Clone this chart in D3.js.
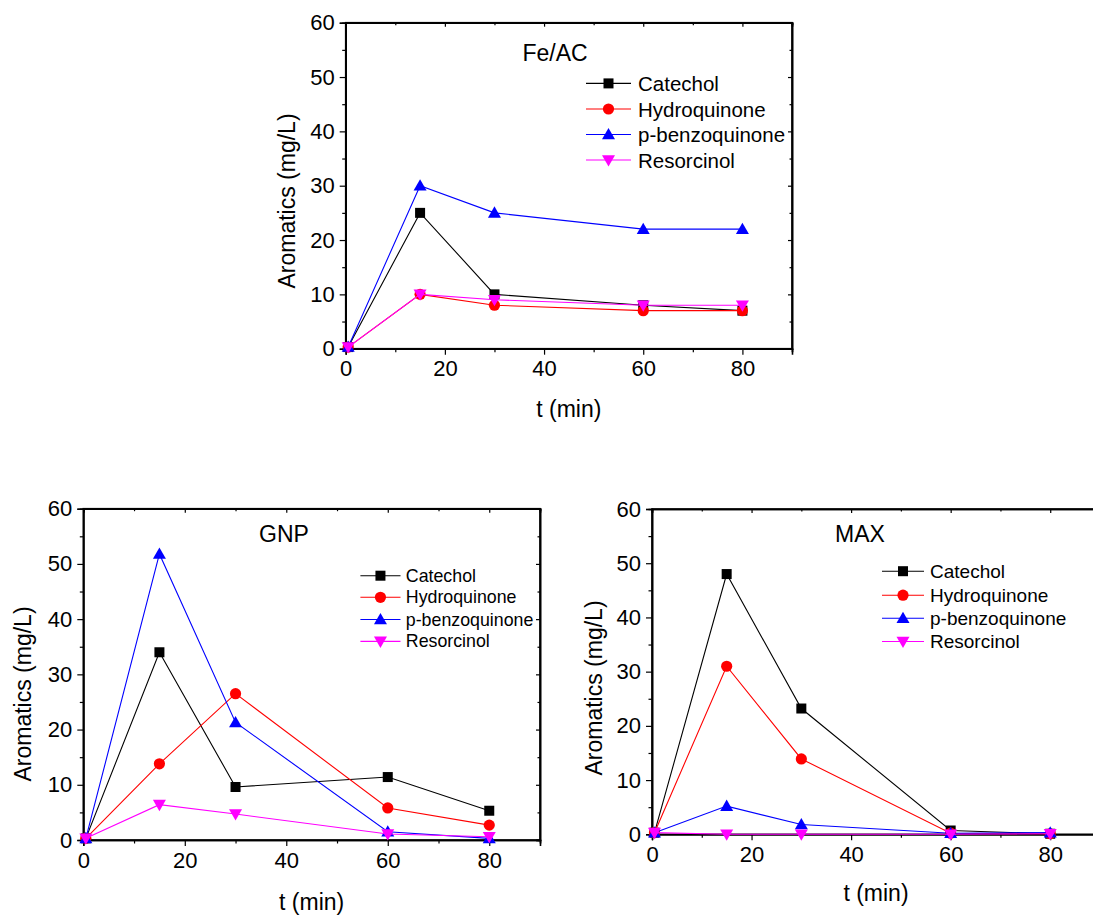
<!DOCTYPE html>
<html>
<head>
<meta charset="utf-8">
<script src="https://cdn.jsdelivr.net/npm/d3@7"></script>
<style>
  html, body { margin: 0; padding: 0; background: #fff; }
  svg { display: block; font-family: "Liberation Sans", Arial, sans-serif; }
</style>
</head>
<body>
<svg id="chart" width="1093" height="918"></svg>
<script>
// ---------------- DATA ----------------
const times = [0.5, 15, 30, 60, 80];
const seriesNames = ["Catechol", "Hydroquinone", "p-benzoquinone", "Resorcinol"];
const panelTitles = ["Fe/AC", "GNP", "MAX"];

const feacCatechol      = [0.3, 25, 10, 8, 7];
const feacHydroquinone  = [0.3, 10, 8, 7, 7];
const feacBenzoquinone  = [0.3, 30, 25, 22, 22];
const feacResorcinol    = [0.3, 10, 9, 8, 8];

const gnpCatechol       = [0.3, 34, 9.6, 11.4, 5.3];
const gnpHydroquinone   = [0.3, 13.8, 26.5, 5.8, 2.7];
const gnpBenzoquinone   = [0.3, 51.8, 21.3, 1.5, 0.3];
const gnpResorcinol     = [0.3, 6.4, 4.7, 1.1, 0.6];

const maxCatechol       = [0.3, 48, 23.2, 0.7, 0.1];
const maxHydroquinone   = [0.3, 31, 13.9, 0.2, 0.1];
const maxBenzoquinone   = [0.3, 5.2, 1.8, 0.2, 0.3];
const maxResorcinol     = [0.3, 0, 0, 0, 0.1];

const yMajorTicks = [0, 10, 20, 30, 40, 50, 60];
const yMinorTicks = [5, 15, 25, 35, 45, 55];
const xMajorTicks = [0, 20, 40, 60, 80];
const xMinorTicks = [10, 30, 50, 70, 90];
const xTitle = "t (min)";
const yTitle = "Aromatics (mg/L)";

// ---------------- STYLE / LAYOUT ----------------
const colors = ["#000000", "#ff0000", "#0000ff", "#ff00ff"];
const symbols = ["square", "circle", "up", "down"];

const panels = [
  { title: panelTitles[0], data: [feacCatechol, feacHydroquinone, feacBenzoquinone, feacResorcinol],
    left: 345.7, right: 792, top: 22.7, bottom: 348.7,
    titleX: 555, titleY: 53, legX0: 586, legX1: 631, legTextX: 638, legY: [83.4, 109, 134.5, 160], legFont: 20.5,
    yTitleX: 287, yTitleY: 201, xTitleY: 409 },
  { title: panelTitles[1], data: [gnpCatechol, gnpHydroquinone, gnpBenzoquinone, gnpResorcinol],
    left: 83.3, right: 540, top: 508.7, bottom: 840,
    titleX: 284, titleY: 534, legX0: 360.4, legX1: 400.5, legTextX: 405.8, legY: [575.7, 597.3, 619.5, 641.4], legFont: 17.8,
    yTitleX: 23, yTitleY: 694, xTitleY: 902 },
  { title: panelTitles[2], data: [maxCatechol, maxHydroquinone, maxBenzoquinone, maxResorcinol],
    left: 652, right: 1100, top: 509, bottom: 834.3,
    titleX: 860, titleY: 534, legX0: 882, legX1: 924, legTextX: 930, legY: [571.2, 595.2, 618.3, 641.5], legFont: 19,
    yTitleX: 594, yTitleY: 688, xTitleY: 893 }
];

const svg = d3.select("#chart");

function marker(g, type, cx, cy, color) {
  if (type === "square") {
    g.append("rect").attr("x", cx - 5).attr("y", cy - 5).attr("width", 10).attr("height", 10).attr("fill", color);
  } else if (type === "circle") {
    g.append("circle").attr("cx", cx).attr("cy", cy).attr("r", 5.6).attr("fill", color);
  } else if (type === "up") {
    g.append("path").attr("d", `M${cx},${cy - 6.5}L${cx + 6.5},${cy + 4.8}L${cx - 6.5},${cy + 4.8}Z`).attr("fill", color);
  } else {
    g.append("path").attr("d", `M${cx},${cy + 6.5}L${cx + 6.5},${cy - 4.8}L${cx - 6.5},${cy - 4.8}Z`).attr("fill", color);
  }
}

panels.forEach(p => {
  const x = d3.scaleLinear().domain([0, 90]).range([p.left, p.right]);
  const y = d3.scaleLinear().domain([0, 60]).range([p.bottom, p.top]);
  const g = svg.append("g");

  // frame
  g.append("rect").attr("x", p.left).attr("y", p.top)
    .attr("width", p.right - p.left).attr("height", p.bottom - p.top)
    .attr("fill", "none").attr("stroke", "#000").attr("stroke-width", 1.6);

  // left axis
  const la = g.append("g").attr("transform", `translate(${p.left},0)`)
    .call(d3.axisLeft(y).tickValues(yMajorTicks).tickSize(6).tickPadding(5).tickFormat(d3.format("d")));
  g.append("g").attr("transform", `translate(${p.left},0)`)
    .call(d3.axisLeft(y).tickValues(yMinorTicks).tickSize(3.5).tickFormat(""));
  // bottom axis
  g.append("g").attr("transform", `translate(0,${p.bottom})`)
    .call(d3.axisBottom(x).tickValues(xMajorTicks).tickSize(6).tickPadding(6).tickFormat(d3.format("d")));
  g.append("g").attr("transform", `translate(0,${p.bottom})`)
    .call(d3.axisBottom(x).tickValues(xMinorTicks).tickSize(3.5).tickFormat(""));
  // mirror ticks (inward)
  g.append("g").attr("transform", `translate(0,${p.top})`)
    .call(d3.axisBottom(x).tickValues(xMajorTicks).tickSize(4).tickFormat(""));
  g.append("g").attr("transform", `translate(0,${p.top})`)
    .call(d3.axisBottom(x).tickValues(xMinorTicks).tickSize(2.5).tickFormat(""));
  g.append("g").attr("transform", `translate(${p.right},0)`)
    .call(d3.axisLeft(y).tickValues(yMajorTicks).tickSize(4).tickFormat(""));
  g.append("g").attr("transform", `translate(${p.right},0)`)
    .call(d3.axisLeft(y).tickValues(yMinorTicks).tickSize(2.5).tickFormat(""));

  g.selectAll(".domain").attr("stroke", "#000").attr("stroke-width", 1.6);
  g.selectAll(".tick line").attr("stroke", "#000").attr("stroke-width", 1.2);
  g.selectAll(".tick text").attr("font-size", 22).attr("fill", "#000")
    .attr("font-family", "'Liberation Sans', Arial, sans-serif");

  // axis titles
  g.append("text").attr("x", (p.left + Math.min(p.right, 1100)) / 2).attr("y", p.xTitleY)
    .attr("text-anchor", "middle").attr("dominant-baseline", "central")
    .attr("font-size", 23).text(xTitle);
  g.append("text").attr("transform", `translate(${p.yTitleX},${p.yTitleY}) rotate(-90)`)
    .attr("text-anchor", "middle").attr("dominant-baseline", "central")
    .attr("font-size", 23).text(yTitle);

  // panel title
  g.append("text").attr("x", p.titleX).attr("y", p.titleY)
    .attr("text-anchor", "middle").attr("dominant-baseline", "central")
    .attr("font-size", 23).text(p.title);

  // series
  const line = d3.line().x((d, i) => x(times[i])).y(d => y(d));
  p.data.forEach((vals, si) => {
    const sg = g.append("g");
    sg.append("path").datum(vals).attr("d", line)
      .attr("fill", "none").attr("stroke", colors[si]).attr("stroke-width", 1.1);
    vals.forEach((v, i) => marker(sg, symbols[si], x(times[i]), y(v), colors[si]));
  });

  // legend
  seriesNames.forEach((name, si) => {
    const ly = p.legY[si];
    const lg = g.append("g");
    lg.append("line").attr("x1", p.legX0).attr("x2", p.legX1).attr("y1", ly).attr("y2", ly)
      .attr("stroke", colors[si]).attr("stroke-width", 1.1);
    marker(lg, symbols[si], (p.legX0 + p.legX1) / 2, ly, colors[si]);
    lg.append("text").attr("x", p.legTextX).attr("y", ly)
      .attr("dominant-baseline", "central").attr("font-size", p.legFont).text(name);
  });
});
</script>
</body>
</html>
